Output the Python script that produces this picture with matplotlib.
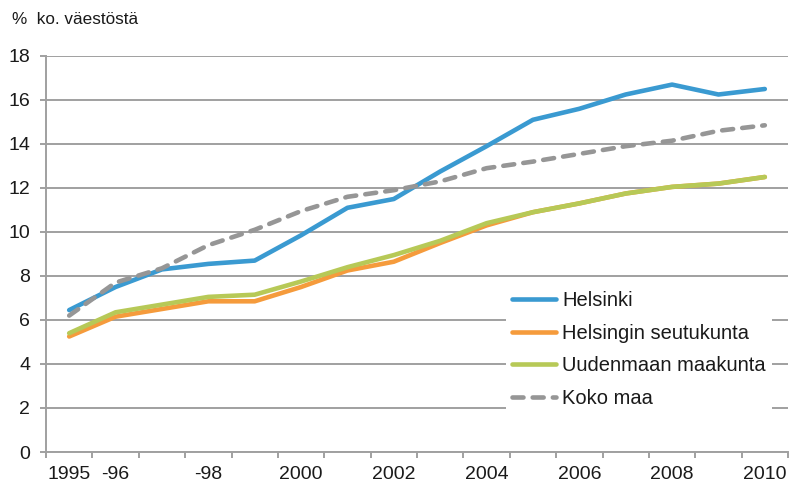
import matplotlib
matplotlib.use('Agg')
import matplotlib.pyplot as plt

plt.rcParams['font.family'] = ['Liberation Sans', 'DejaVu Sans']

years = list(range(1995, 2011))
year_labels = ['1995', '-96', '', '-98', '', '2000', '', '2002', '',
               '2004', '', '2006', '', '2008', '', '2010']

helsinki = [6.45, 7.5, 8.3, 8.55, 8.7, 9.85, 11.1, 11.5, 12.75, 13.9,
            15.1, 15.6, 16.25, 16.7, 16.25, 16.5]
seutukunta = [5.25, 6.15, 6.5, 6.85, 6.85, 7.5, 8.25, 8.65, 9.5, 10.3,
              10.9, 11.3, 11.75, 12.05, 12.2, 12.5]
maakunta = [5.4, 6.35, 6.7, 7.05, 7.15, 7.75, 8.4, 8.95, 9.6, 10.4,
            10.9, 11.3, 11.75, 12.05, 12.2, 12.5]
koko_maa = [6.2, 7.7, 8.35, 9.4, 10.1, 10.95, 11.6, 11.9, 12.3, 12.9,
            13.2, 13.55, 13.9, 14.15, 14.6, 14.85]

grid_col = '#a0a0a0'
text_col = '#1a1a1a'

fig = plt.figure(figsize=(7.89, 4.86), dpi=100)
ax = fig.add_axes([46 / 789, 1 - 452 / 486, 742 / 789, 396 / 486])

x = list(range(len(years)))
ax.plot(x, helsinki, color='#3a9ad1', lw=3.3, label='Helsinki', solid_capstyle='round')
ax.plot(x, seutukunta, color='#f59b3c', lw=3.3, label='Helsingin seutukunta', solid_capstyle='round')
ax.plot(x, maakunta, color='#b7c957', lw=3.3, label='Uudenmaan maakunta', solid_capstyle='round')
ax.plot(x, koko_maa, color='#969696', lw=3.3, dashes=(2.4, 2.0),
        dash_capstyle='round', label='Koko maa')

ax.set_xlim(-0.5, len(years) - 0.5)
ax.set_ylim(0, 18)
ax.set_yticks(range(0, 19, 2))
ax.yaxis.grid(True, color=grid_col, lw=1.4)
ax.set_axisbelow(True)

# tick marks between categories, labels centred on categories
ax.set_xticks([i - 0.5 for i in range(len(years) + 1)])
ax.set_xticklabels([])
ax.set_xticks(x, minor=True)
ax.set_xticklabels(year_labels, minor=True)
ax.tick_params(axis='x', which='major', direction='out', length=4.3, width=1.4, color=grid_col)
ax.tick_params(axis='x', which='minor', length=0, pad=10, labelsize=14, labelcolor=text_col)
ax.tick_params(axis='y', direction='out', length=4.3, width=1.4, color=grid_col,
               pad=7, labelsize=14, labelcolor=text_col)

for s in ['top', 'right']:
    ax.spines[s].set_visible(False)
for s in ['left', 'bottom']:
    ax.spines[s].set_color(grid_col)
    ax.spines[s].set_linewidth(1.4)

fig.text(12 / 789, 1 - 20 / 486, '%  ko. väestöstä', fontsize=12.3, color=text_col, va='center')

leg = ax.legend(loc='upper left', bbox_to_anchor=(506 / 789, 1 - 285 / 486),
                bbox_transform=fig.transFigure, frameon=True, fancybox=False,
                facecolor='white', edgecolor='none', framealpha=1,
                fontsize=14.5, handlelength=2.2, handletextpad=0.3,
                labelspacing=0.68, borderpad=0.3, borderaxespad=0)
for t in leg.get_texts():
    t.set_color(text_col)

fig.savefig('out.png', dpi=100)
